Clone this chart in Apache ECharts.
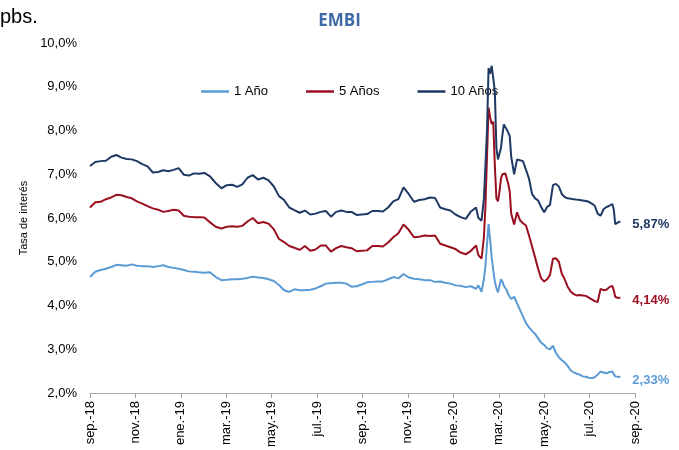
<!DOCTYPE html>
<html>
<head>
<meta charset="utf-8">
<script src="https://cdn.jsdelivr.net/npm/echarts@6/dist/echarts.min.js"></script>
<style>
html,body{margin:0;padding:0;background:#fff;}
#chart{width:679px;height:450px;}
</style>
</head>
<body>
<div id="chart"></div>
<script>
// ---- data ----
const tickLabels = ['sep.-18','nov.-18','ene.-19','mar.-19','may.-19','jul.-19','sep.-19','nov.-19','ene.-20','mar.-20','may.-20','jul.-20','sep.-20'];
const seriesNames = ['1 Año','5 Años','10 Años'];
const dates = [
'2018-09-01','2018-09-08','2018-09-15','2018-09-22','2018-09-29','2018-10-06','2018-10-13','2018-10-20','2018-10-27','2018-11-03',
'2018-11-10','2018-11-17','2018-11-24','2018-12-01','2018-12-08','2018-12-15','2018-12-22','2018-12-29','2019-01-05','2019-01-12',
'2019-01-19','2019-01-26','2019-02-02','2019-02-09','2019-02-16','2019-02-23','2019-03-02','2019-03-09','2019-03-16','2019-03-23',
'2019-03-30','2019-04-06','2019-04-13','2019-04-20','2019-04-27','2019-05-04','2019-05-11','2019-05-18','2019-05-25','2019-06-01',
'2019-06-08','2019-06-15','2019-06-22','2019-06-29','2019-07-06','2019-07-13','2019-07-20','2019-07-27','2019-08-03','2019-08-10',
'2019-08-17','2019-08-24','2019-08-31','2019-09-07','2019-09-14','2019-09-21','2019-09-28','2019-10-05','2019-10-12','2019-10-19',
'2019-10-26','2019-11-02','2019-11-09','2019-11-16','2019-11-23','2019-11-30','2019-12-07','2019-12-14','2019-12-21','2019-12-28',
'2020-01-04','2020-01-11','2020-01-18','2020-01-25','2020-02-01','2020-02-04','2020-02-08','2020-02-11','2020-02-13','2020-02-15',
'2020-02-17','2020-02-19','2020-02-21','2020-02-23','2020-02-25','2020-02-27','2020-02-29','2020-03-02','2020-03-04','2020-03-06',
'2020-03-08','2020-03-10','2020-03-12','2020-03-14','2020-03-16','2020-03-18','2020-03-22','2020-03-26','2020-03-30','2020-04-03',
'2020-04-07','2020-04-11','2020-04-15','2020-04-19','2020-04-23','2020-04-27','2020-05-01','2020-05-05','2020-05-09','2020-05-13',
'2020-05-17','2020-05-21','2020-05-25','2020-05-29','2020-06-02','2020-06-06','2020-06-10','2020-06-14','2020-06-18','2020-06-22',
'2020-06-26','2020-06-30','2020-07-04','2020-07-08','2020-07-12','2020-07-16','2020-07-20','2020-07-24','2020-07-28','2020-08-01',
'2020-08-03','2020-08-05','2020-08-09','2020-08-12'
];
const y1 = [
4.65,4.77,4.81,4.84,4.88,4.93,4.92,4.91,4.94,4.91,
4.90,4.90,4.88,4.90,4.92,4.88,4.86,4.84,4.81,4.78,
4.77,4.76,4.75,4.76,4.65,4.58,4.59,4.60,4.60,4.61,
4.63,4.66,4.64,4.63,4.60,4.56,4.47,4.35,4.31,4.37,
4.35,4.35,4.36,4.39,4.44,4.50,4.51,4.52,4.52,4.50,
4.43,4.44,4.48,4.53,4.54,4.55,4.55,4.60,4.65,4.62,
4.72,4.64,4.61,4.60,4.58,4.58,4.54,4.55,4.52,4.50,
4.46,4.45,4.42,4.44,4.38,4.46,4.31,4.60,4.90,5.40,
5.86,5.50,5.10,4.80,4.55,4.40,4.30,4.45,4.60,4.55,
4.45,4.40,4.35,4.25,4.20,4.15,4.20,4.05,3.90,3.75,
3.60,3.50,3.42,3.35,3.25,3.15,3.10,3.02,3.00,3.08,
2.92,2.82,2.75,2.70,2.62,2.52,2.47,2.44,2.42,2.38,
2.37,2.35,2.34,2.36,2.42,2.49,2.47,2.45,2.48,2.49,
2.45,2.38,2.37,2.36,2.33
];
const y5 = [
6.24,6.36,6.37,6.43,6.47,6.53,6.52,6.48,6.45,6.38,
6.33,6.27,6.22,6.19,6.14,6.16,6.19,6.17,6.05,6.03,
6.02,6.02,6.01,5.90,5.80,5.76,5.80,5.81,5.80,5.82,
5.92,6.00,5.88,5.91,5.87,5.74,5.52,5.45,5.36,5.32,
5.27,5.36,5.25,5.28,5.37,5.37,5.23,5.31,5.36,5.33,
5.31,5.24,5.25,5.26,5.36,5.36,5.35,5.44,5.56,5.65,
5.85,5.73,5.56,5.57,5.60,5.59,5.60,5.41,5.37,5.33,
5.29,5.21,5.17,5.25,5.37,5.15,5.07,5.55,6.28,7.40,
8.52,8.30,8.15,8.20,7.20,6.45,6.38,6.60,6.90,7.00,
7.04,7.02,6.90,6.78,6.60,6.10,5.85,6.13,5.95,5.88,
5.83,5.60,5.35,5.10,4.84,4.62,4.55,4.60,4.70,5.07,
5.08,5.00,4.73,4.60,4.43,4.32,4.26,4.23,4.24,4.23,
4.22,4.18,4.14,4.10,4.08,4.38,4.35,4.36,4.42,4.45,
4.35,4.20,4.17,4.18,4.14
];
const y10 = [
7.19,7.28,7.30,7.31,7.40,7.44,7.38,7.35,7.34,7.30,
7.23,7.18,7.04,7.05,7.09,7.07,7.10,7.14,6.99,6.97,
7.02,7.01,7.03,6.95,6.80,6.68,6.75,6.76,6.71,6.77,
6.92,6.98,6.88,6.92,6.86,6.72,6.50,6.41,6.24,6.18,
6.12,6.17,6.08,6.10,6.14,6.16,6.03,6.14,6.17,6.14,
6.14,6.07,6.08,6.09,6.16,6.16,6.15,6.24,6.38,6.43,
6.70,6.55,6.37,6.41,6.43,6.47,6.46,6.24,6.20,6.17,
6.08,6.02,5.98,6.15,6.24,6.00,5.94,6.43,7.20,8.00,
9.43,9.30,9.48,9.45,8.90,7.60,7.34,7.35,7.60,7.90,
8.14,8.10,8.02,7.95,7.87,7.40,7.00,7.34,7.32,7.30,
7.10,6.90,6.55,6.45,6.40,6.25,6.13,6.25,6.30,6.75,
6.78,6.72,6.55,6.48,6.45,6.44,6.43,6.42,6.41,6.40,
6.39,6.37,6.33,6.28,6.10,6.05,6.20,6.25,6.28,6.32,
6.20,5.86,5.90,5.92,5.87
];
const colors = ['#5B9BD5','#9A1020','#1F3864'];

// ---- helpers ----
function toMonths(s){
  const p = s.split('-').map(Number);
  const dim = new Date(p[0], p[1], 0).getDate();
  return (p[0]-2018)*12 + (p[1]-9) + (p[2]-1)/dim;
}
const xs = dates.map(toMonths);
const pairs = arr => arr.map((v,i)=>[xs[i], v]);
const fmt = v => v.toFixed(2).replace('.', ',') + '%';
const FONT = 'Liberation Sans, Arial, sans-serif';

const chart = echarts.init(document.getElementById('chart'));
const valuesList = [y1, y5, y10];
chart.setOption({
  animation:false,
  backgroundColor:'#fff',
  title:{
    text:'EMBI', left:'center', top:8,
    textStyle:{fontFamily:'Open Sans, sans-serif', fontSize:17, fontWeight:'bold', color:'#3E6BA5'}
  },
  graphic:[{
    type:'text', left:0, top:7,
    style:{text:'pbs.', font:'20px Liberation Sans, Arial, sans-serif', fill:'#000'}
  }],
  legend:{
    data:seriesNames.map((n,i)=>({name:n, icon:'rect', itemStyle:{color:colors[i]}})),
    left:196, top:80, itemWidth:28, itemHeight:2.5, itemGap:38,
    textStyle:{fontFamily:FONT, fontSize:13, color:'#000'}
  },
  grid:{left:90, right:44, top:43, bottom:55, containLabel:false},
  xAxis:{
    type:'value', min:0, max:24, interval:2,
    axisLine:{show:true, lineStyle:{color:'#A6A6A6', width:1}},
    axisTick:{show:true, length:5, lineStyle:{color:'#A6A6A6'}},
    splitLine:{show:false},
    axisLabel:{
      rotate:90, margin:8, fontFamily:FONT, fontSize:13, color:'#000',
      formatter:v => tickLabels[Math.round(v/2)] || ''
    }
  },
  yAxis:{
    type:'value', min:2, max:10, interval:1,
    name:'Tasa de interés', nameLocation:'middle', nameGap:51, nameRotate:90,
    nameTextStyle:{fontFamily:FONT, fontSize:11, color:'#000'},
    axisLine:{show:false}, axisTick:{show:false}, splitLine:{show:false},
    axisLabel:{margin:13, fontFamily:FONT, fontSize:13, color:'#000',
      formatter:v => v.toFixed(1).replace('.', ',') + '%'}
  },
  series: valuesList.map((vals,i)=>({
    name:seriesNames[i], type:'line', data:pairs(vals),
    symbol:'none', smooth:false,
    lineStyle:{color:colors[i], width:2},
    itemStyle:{color:colors[i]},
    z: 3 + i,
    endLabel:{
      show:true, distance:12, offset:[0,3],
      formatter:() => fmt(vals[vals.length-1]),
      color:colors[i], fontFamily:FONT, fontSize:13, fontWeight:'bold'
    }
  }))
});
</script>
</body>
</html>
